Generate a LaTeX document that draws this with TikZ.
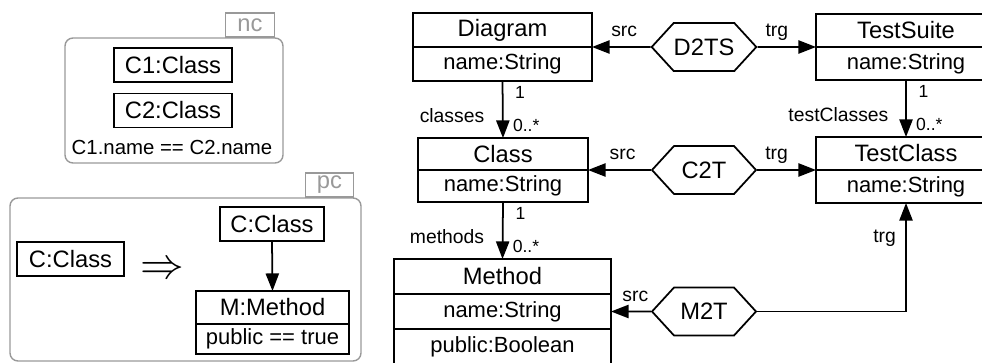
\documentclass[tikz,border=0pt]{standalone}
\usepackage{fontspec}
\setmainfont{Liberation Sans}
\usetikzlibrary{positioning, arrows.meta, shapes.symbols}

\begin{document}
\begin{tikzpicture}
        [
          x=0.02cm, y=-0.02cm,
          font=\fontsize{13.5}{16}\selectfont,
          cls/.style={draw, line width=1pt, inner sep=0pt, outer sep=0pt, minimum height=0.68cm},
          attr/.style={cls, font=\fontsize{12.5}{15}\selectfont},
          corr/.style={draw, line width=1pt, signal, signal to=east and west,
            signal pointer angle=95, minimum width=2.08cm, minimum height=0.96cm, inner sep=0pt},
          link/.style={line width=1pt, -{Triangle[length=10pt,width=7.5pt]}},
          lbl/.style={font=\fontsize{11}{13}\selectfont, inner sep=1pt, text height=0.75em, text depth=0.2em},
          mult/.style={font=\fontsize{10}{12}\selectfont, inner sep=1pt},
          frame/.style={draw=black!40, line width=0.8pt, rounded corners=0.16cm},
          tab/.style={draw=black!40, line width=0.8pt, text=black!40, inner sep=0pt,
            minimum width=0.97cm, minimum height=0.48cm}
        ]
        \useasboundingbox (0,0) rectangle (982,362);
        % nc
        \draw[frame] (65,38) rectangle (283,163);
        \node[tab] (nc) at (250,25) {nc};
        \node[cls, minimum width=2.36cm] (c1) at (173,65) {C1:Class};
        \node[cls, minimum width=2.36cm] (c2) at (173,110.5) {C2:Class};
        \node[font=\fontsize{11.6}{14}\selectfont] (nccond) at (172,147) {C1.name == C2.name};
        % pc
        \draw[frame] (10,198) rectangle (361,361);
        \node[tab] (pc) at (329.5,185) {pc};
        \node[cls, minimum width=2.14cm] (pcc) at (70.5,259) {C:Class};
        \node[font=\fontsize{26}{30}\selectfont] (impl) at (162,270) {$\Rightarrow$};
        \node[cls, minimum width=2.08cm] (pcc2) at (272,224) {C:Class};
        \node[cls, minimum width=3.06cm, minimum height=0.66cm] (pcm) at (272.5,307.5) {M:Method};
        \node[attr, minimum width=3.06cm, minimum height=0.6cm, below=0pt of pcm] (pcmpub) {public == true};
        \draw[link] (pcc2.south) -- (pcm.north);
        % type model
        \node[cls, minimum width=3.58cm] (diag) at (502.5,30) {Diagram};
        \node[attr, minimum width=3.58cm, below=0pt of diag] (diagname) {name:String};
        \node[cls, minimum width=3.4cm, minimum height=0.64cm] (cls) at (503,154) {Class};
        \node[attr, minimum width=3.4cm, minimum height=0.64cm, below=0pt of cls] (clsname) {name:String};
        \node[cls, minimum width=4.34cm, minimum height=0.7cm] (meth) at (502.5,276.5) {Method};
        \node[attr, minimum width=4.34cm, minimum height=0.7cm, below=0pt of meth] (methname) {name:String};
        \node[attr, minimum width=4.34cm, minimum height=0.7cm, below=0pt of methname] (methpub) {public:Boolean};
        \node[cls, minimum width=3.6cm, minimum height=0.66cm] (suite) at (906,30.5) {TestSuite};
        \node[attr, minimum width=3.6cm, minimum height=0.66cm, below=0pt of suite] (suitename) {name:String};
        \node[cls, minimum width=3.6cm, minimum height=0.66cm] (tcls) at (906,153.5) {TestClass};
        \node[attr, minimum width=3.6cm, minimum height=0.66cm, below=0pt of tcls] (tclsname) {name:String};
        % correspondences
        \node[corr] (d2ts) at (704,47) {D2TS};
        \node[corr] (c2t) at (704,170) {C2T};
        \node[corr] (m2t) at (704,311.5) {M2T};
        % references
        \draw[link] (diagname.south) -- node[mult, right=0.2cm, pos=0.2] {1}
          node[mult, right=0.15cm, pos=0.78] {0..*}
          node[lbl, left=0.32cm, pos=0.65] {classes} (cls.north);
        \draw[link] (clsname.south) -- node[mult, right=0.2cm, pos=0.2] {1}
          node[mult, right=0.15cm, pos=0.78] {0..*}
          node[lbl, left=0.32cm, pos=0.65] {methods} (meth.north);
        \draw[link] (suitename.south) -- node[mult, right=0.2cm, pos=0.2] {1}
          node[mult, right=0.15cm, pos=0.78] {0..*}
          node[lbl, left=0.3cm, pos=0.65] {testClasses} (tcls.north);
        % mappings
        \draw[link] (d2ts.west) -- node[lbl, above=0.08cm, pos=0.45] {src} (diag.south east);
        \draw[link] (d2ts.east) -- node[lbl, above=0.08cm, pos=0.33] {trg} (suite.south west);
        \draw[link] (c2t.west) -- node[lbl, above=0.08cm, pos=0.45] {src} (cls.south east);
        \draw[link] (c2t.east) -- node[lbl, above=0.08cm, pos=0.33] {trg} (tcls.south west);
        \draw[link] (m2t.west) -- node[lbl, above=0.08cm, pos=0.39] {src} (methname.east);
        \draw[link] (m2t.east) -| node[lbl, left=0.15cm, pos=0.84] {trg} (tclsname.south);
\end{tikzpicture}
\end{document}
